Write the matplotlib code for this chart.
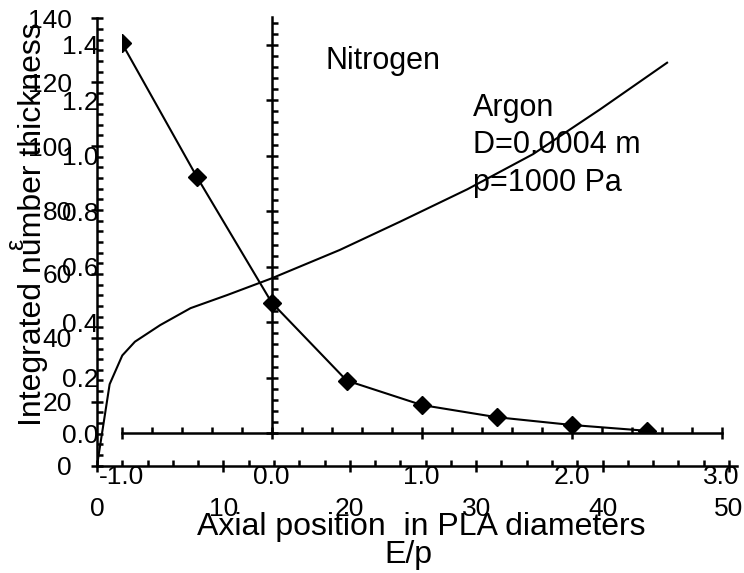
import matplotlib
matplotlib.use("Agg")
import matplotlib.pyplot as plt
from matplotlib.ticker import MultipleLocator, AutoMinorLocator, FormatStrFormatter

plt.rcParams['font.family'] = ['Liberation Sans', 'DejaVu Sans']
plt.rcParams['axes.unicode_minus'] = False

# Argon: integrated number thickness vs axial position (PLA diameters)
argon_x = [0, 1.0, 2.0, 3.0, 5.0, 7.4, 10.3, 13.8, 19.2, 24.0, 29.3, 34.5, 39.8, 45.1]
argon_y = [0, 25.5, 34.5, 38.8, 44.0, 49.3, 53.4, 58.6, 67.5, 76.4, 86.5, 97.5, 111.5, 126.1]

# Nitrogen: epsilon vs E/p
n2_x = [-1.0, -0.5, 0.0, 0.5, 1.0, 1.5, 2.0, 2.5]
n2_y = [1.407, 0.925, 0.471, 0.19, 0.102, 0.058, 0.030, 0.009]

W, H = 744, 573
fig = plt.figure(figsize=(W / 100, H / 100), dpi=100)

def px_box(left, bottom, width, height):
    return [left / W, bottom / H, width / W, height / H]

lw_ax = 1.8
tick_font = 19

# ---- chart 1 (Argon)
ax1 = fig.add_axes(px_box(97, 107.3, 639.6, 447.4))
ax1.plot(argon_x, argon_y, color='black', lw=1.5)
ax1.set_xlim(0, 50.6)
ax1.set_ylim(0, 140)
for s in ['top', 'right']:
    ax1.spines[s].set_visible(False)
for s in ['left', 'bottom']:
    ax1.spines[s].set_linewidth(lw_ax)
ax1.xaxis.set_major_locator(MultipleLocator(10))
ax1.xaxis.set_minor_locator(MultipleLocator(2))
ax1.yaxis.set_major_locator(MultipleLocator(20))
ax1.yaxis.set_minor_locator(AutoMinorLocator(6))
ax1.tick_params(which='major', direction='inout', length=9, width=lw_ax, labelsize=tick_font)
ax1.tick_params(which='minor', direction='in', length=4.5, width=lw_ax)
ax1.tick_params(axis='x', which='major', pad=18)
ax1.tick_params(axis='y', which='major', pad=13.5)

# ---- chart 2 (Nitrogen)
ax2 = fig.add_axes(px_box(121.7, 139.7, 600, 416.3))
ax2.patch.set_alpha(0)
ax2.plot(n2_x, n2_y, color='black', lw=1.5, marker='D', ms=9, mfc='black', mec='black')
ax2.set_xlim(-1, 3)
ax2.set_ylim(0, 1.5)
for s in ['top', 'right']:
    ax2.spines[s].set_visible(False)
ax2.spines['left'].set_position(('data', 0))
for s in ['left', 'bottom']:
    ax2.spines[s].set_linewidth(lw_ax)
ax2.xaxis.set_major_locator(MultipleLocator(1))
ax2.xaxis.set_minor_locator(MultipleLocator(0.2))
ax2.xaxis.set_major_formatter(FormatStrFormatter('%.1f'))
ax2.yaxis.set_major_locator(MultipleLocator(0.2))
ax2.yaxis.set_minor_locator(MultipleLocator(0.04))
ax2.tick_params(which='major', direction='inout', length=9, width=lw_ax, labelsize=tick_font)
ax2.tick_params(which='minor', direction='in', length=4.5, width=lw_ax)
ax2.tick_params(axis='x', which='major', pad=18.5)
ax2.tick_params(axis='y', labelleft=False)

# y tick labels of chart 2 sit at the left edge of the picture
ax3 = fig.add_axes(px_box(103, 139.7, 1, 416.3))
ax3.patch.set_alpha(0)
ax3.set_ylim(ax2.get_ylim())
ax3.set_yticks([0, 0.2, 0.4, 0.6, 0.8, 1.0, 1.2, 1.4])
ax3.yaxis.set_major_formatter(FormatStrFormatter('%.1f'))
ax3.set_xticks([])
for s in ax3.spines.values():
    s.set_visible(False)
ax3.tick_params(axis='y', length=0, pad=3, labelsize=tick_font)

# ---- labels and notes
fig.text(33 / W, 1 - 224 / H, 'Integrated number thickness', rotation=90,
         ha='center', va='center', fontsize=23)
fig.text(16 / W, 1 - 244 / H, 'ε', rotation=90, ha='center', va='center', fontsize=18)
fig.text(421.7 / W, 1 - 527 / H, 'Axial position  in PLA diameters',
         ha='center', va='center', fontsize=23)
fig.text(408 / W, 1 - 555 / H, 'E/p', ha='center', va='center', fontsize=23)
fig.text(325 / W, 1 - 61 / H, 'Nitrogen', ha='left', va='center', fontsize=22)
fig.text(473 / W, 1 - 93 / H, 'Argon\nD=0.0004 m\np=1000 Pa', ha='left', va='top',
         fontsize=22, linespacing=1.32)

fig.savefig('out.png', dpi=100)
